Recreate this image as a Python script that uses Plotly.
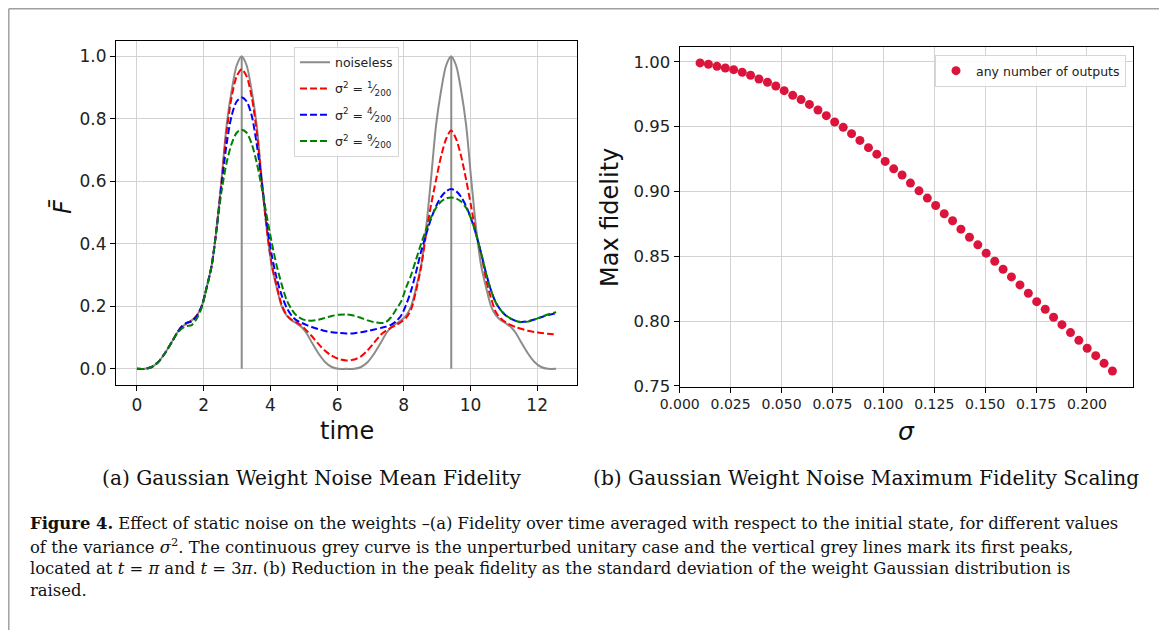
import plotly.graph_objects as go

OFFSET = 8  # the page body adds an 8px margin; positions below are page pixels
W, H = 1167 - OFFSET, 630 - OFFSET

# ---------------- data: panel (a) ----------------
time = [0.00, 0.24, 0.44, 0.64, 0.84, 1.04, 1.19, 1.34, 1.49, 1.64, 1.79, 1.94, 2.09, 2.24, 2.39, 2.54, 2.69, 2.84, 2.99, 3.14,
        3.29, 3.44, 3.59, 3.74, 3.89, 4.04, 4.19, 4.34, 4.49, 4.64, 4.79, 4.94, 5.09, 5.24, 5.44, 5.64, 5.84, 6.04, 6.28,
        6.52, 6.72, 6.92, 7.12, 7.32, 7.47, 7.62, 7.77, 7.92, 8.07, 8.22, 8.37, 8.52, 8.67, 8.82, 8.97, 9.12, 9.27, 9.42,
        9.57, 9.72, 9.87, 10.02, 10.17, 10.32, 10.47, 10.62, 10.77, 10.92, 11.07, 11.22, 11.37, 11.52, 11.72, 11.92, 12.12, 12.32, 12.57]

noiseless = [0.0, 0.0, 0.006, 0.022, 0.05, 0.085, 0.113, 0.133, 0.145, 0.155, 0.17, 0.20, 0.26, 0.33, 0.45, 0.61, 0.78, 0.89, 0.97, 1.0,
             0.97, 0.89, 0.78, 0.61, 0.45, 0.33, 0.26, 0.20, 0.17, 0.155, 0.145, 0.133, 0.113, 0.085, 0.05, 0.022, 0.006, 0.0, 0.0,
             0.0, 0.006, 0.022, 0.05, 0.085, 0.113, 0.133, 0.145, 0.155, 0.17, 0.20, 0.26, 0.33, 0.45, 0.61, 0.78, 0.89, 0.97, 1.0,
             0.97, 0.89, 0.78, 0.61, 0.45, 0.33, 0.26, 0.20, 0.17, 0.155, 0.145, 0.133, 0.113, 0.085, 0.05, 0.022, 0.006, 0.0, 0.0]

var_1 = [0.0, 0.0, 0.006, 0.022, 0.05, 0.085, 0.113, 0.135, 0.147, 0.153, 0.17, 0.20, 0.26, 0.33, 0.45, 0.60, 0.76, 0.87, 0.935, 0.958,
         0.935, 0.87, 0.76, 0.60, 0.45, 0.335, 0.265, 0.205, 0.172, 0.157, 0.148, 0.138, 0.122, 0.105, 0.08, 0.058, 0.042, 0.032, 0.027,
         0.03, 0.04, 0.06, 0.085, 0.11, 0.122, 0.132, 0.14, 0.15, 0.163, 0.19, 0.25, 0.325, 0.43, 0.525, 0.605, 0.68, 0.735, 0.762,
         0.735, 0.68, 0.605, 0.52, 0.43, 0.37, 0.285, 0.225, 0.18, 0.16, 0.148, 0.14, 0.133, 0.128, 0.122, 0.118, 0.115, 0.112, 0.11]

var_4 = [0.0, 0.0, 0.006, 0.022, 0.05, 0.085, 0.113, 0.135, 0.147, 0.152, 0.168, 0.20, 0.26, 0.33, 0.45, 0.59, 0.72, 0.81, 0.855, 0.868,
         0.855, 0.81, 0.72, 0.60, 0.47, 0.365, 0.29, 0.235, 0.195, 0.17, 0.155, 0.147, 0.14, 0.134, 0.127, 0.121, 0.117, 0.115, 0.113,
         0.114, 0.117, 0.121, 0.126, 0.131, 0.135, 0.141, 0.152, 0.17, 0.205, 0.25, 0.31, 0.375, 0.43, 0.48, 0.52, 0.55, 0.568, 0.575,
         0.568, 0.55, 0.52, 0.48, 0.43, 0.37, 0.305, 0.25, 0.21, 0.186, 0.17, 0.16, 0.153, 0.15, 0.152, 0.158, 0.165, 0.172, 0.178]

var_9 = [0.0, 0.0, 0.006, 0.022, 0.05, 0.085, 0.11, 0.128, 0.137, 0.14, 0.16, 0.195, 0.26, 0.33, 0.45, 0.57, 0.66, 0.72, 0.755, 0.765,
         0.755, 0.72, 0.66, 0.58, 0.49, 0.405, 0.33, 0.27, 0.22, 0.19, 0.17, 0.16, 0.155, 0.154, 0.157, 0.163, 0.169, 0.173, 0.174,
         0.17, 0.163, 0.155, 0.149, 0.147, 0.15, 0.165, 0.19, 0.215, 0.26, 0.30, 0.35, 0.40, 0.445, 0.485, 0.515, 0.535, 0.545, 0.548,
         0.545, 0.535, 0.515, 0.48, 0.43, 0.37, 0.305, 0.25, 0.21, 0.186, 0.17, 0.16, 0.153, 0.149, 0.151, 0.158, 0.166, 0.174, 0.181]

peak_times = [3.1416, 9.4248]          # t = pi and t = 3 pi
x_ticks_a = [0, 2, 4, 6, 8, 10, 12]
y_ticks_a = [0.0, 0.2, 0.4, 0.6, 0.8, 1.0]

# ---------------- data: panel (b) ----------------
sigma = [0.0100, 0.0141, 0.0183, 0.0224, 0.0265, 0.0307, 0.0348, 0.0389, 0.0431, 0.0472,
         0.0513, 0.0555, 0.0596, 0.0637, 0.0679, 0.0720, 0.0761, 0.0803, 0.0844, 0.0885,
         0.0927, 0.0968, 0.1009, 0.1051, 0.1092, 0.1133, 0.1175, 0.1216, 0.1257, 0.1299,
         0.1340, 0.1381, 0.1423, 0.1464, 0.1505, 0.1547, 0.1588, 0.1629, 0.1671, 0.1712,
         0.1753, 0.1795, 0.1836, 0.1877, 0.1919, 0.1960, 0.2001, 0.2043, 0.2084, 0.2125]
max_fidelity = [0.9992, 0.9982, 0.9966, 0.9953, 0.9940, 0.9920, 0.9897, 0.9868, 0.9843, 0.9814,
                0.9778, 0.9742, 0.9709, 0.9672, 0.9629, 0.9585, 0.9536, 0.9495, 0.9446, 0.9394,
                0.9338, 0.9288, 0.9232, 0.9175, 0.9127, 0.9065, 0.9005, 0.8949, 0.8892, 0.8828,
                0.8774, 0.8709, 0.8647, 0.8588, 0.8524, 0.8462, 0.8400, 0.8341, 0.8279, 0.8215,
                0.8150, 0.8091, 0.8029, 0.7972, 0.7911, 0.7851, 0.7790, 0.7733, 0.7674, 0.7615]
x_ticks_b = [0.0, 0.025, 0.05, 0.075, 0.1, 0.125, 0.15, 0.175, 0.2]
y_ticks_b = [0.75, 0.80, 0.85, 0.90, 0.95, 1.00]

# ---------------- figure ----------------
def px(x):
    return (x - OFFSET) / W

def py(y):
    return 1 - (y - OFFSET) / H

fig = go.Figure()

vx, vy = [], []
for p in peak_times:
    vx += [p, p, None]
    vy += [0, 1, None]
fig.add_trace(go.Scatter(x=vx, y=vy, mode="lines", line=dict(color="#8c8c8c", width=2),
                         showlegend=False, hoverinfo="skip", xaxis="x", yaxis="y"))

fig.add_trace(go.Scatter(x=time, y=noiseless, mode="lines", name="noiseless",
                         line=dict(color="#8c8c8c", width=2, shape="spline", smoothing=0.8),
                         xaxis="x", yaxis="y", legend="legend", legendgroup="a0"))
series = [
    (var_1, "red", "σ<sup>2</sup> = <sup>1</sup>⁄<sub>200</sub>"),
    (var_4, "blue", "σ<sup>2</sup> = <sup>4</sup>⁄<sub>200</sub>"),
    (var_9, "green", "σ<sup>2</sup> = <sup>9</sup>⁄<sub>200</sub>"),
]
for i, (vals, col, lab) in enumerate(series):
    fig.add_trace(go.Scatter(x=time, y=vals, mode="lines", name=lab,
                             line=dict(color=col, width=2, dash="7px,3px", shape="spline", smoothing=0.8),
                             xaxis="x", yaxis="y", legend="legend", legendgroup="a%d" % (i + 1)))

fig.add_trace(go.Scatter(x=sigma, y=max_fidelity, mode="markers", name="any number of outputs",
                         marker=dict(color="#dc143c", size=9),
                         xaxis="x2", yaxis="y2", legend="legend2"))

axis_common = dict(showline=True, mirror=True, linecolor="black", linewidth=1,
                   ticks="outside", ticklen=5, tickcolor="black", tickwidth=1,
                   showgrid=True, gridcolor="#d3d3d3", gridwidth=1, zeroline=False,
                   automargin=False,
                   tickfont=dict(family="DejaVu Sans", color="#222", size=17))

fig.update_layout(
    width=W, height=H,
    margin=dict(l=0, r=0, t=0, b=0, pad=0, autoexpand=False),
    paper_bgcolor="white", plot_bgcolor="white",
    xaxis=dict(domain=[px(116), px(577)], range=[-0.628, 13.195], tickvals=x_ticks_a,
               anchor="y", **axis_common),
    yaxis=dict(domain=[py(384.5), py(40.5)], range=[-0.05, 1.05], tickvals=y_ticks_a,
               tickformat=".1f", anchor="x", **axis_common),
    xaxis2=dict(domain=[px(679.5), px(1133)], range=[-0.0001, 0.2226], tickvals=x_ticks_b,
                tickformat=".3f", anchor="y2", **{**axis_common, "tickfont": dict(family="DejaVu Sans", color="#222", size=14)}),
    yaxis2=dict(domain=[py(386.5), py(47)], range=[0.7495, 1.0115], tickvals=y_ticks_b,
                tickformat=".2f", anchor="x2", **{**axis_common, "tickfont": dict(family="DejaVu Sans", color="#222", size=16.5)}),
    legend=dict(x=px(294), y=py(46.5), xanchor="left", yanchor="top",
                bgcolor="rgba(255,255,255,0.85)", bordercolor="#d6d6d6", borderwidth=1,
                font=dict(family="DejaVu Sans", size=12.5, color="#222"),
                traceorder="grouped", tracegroupgap=7, itemwidth=30),
    legend2=dict(x=px(935), y=py(55), xanchor="left", yanchor="top",
                 bgcolor="rgba(255,255,255,0.85)", bordercolor="#d6d6d6", borderwidth=1,
                 font=dict(family="DejaVu Sans", size=12.5, color="#222")),
)

ann = []
def add_text(x, y, text, size, family="DejaVu Sans", angle=0, xanchor="center", color="#111"):
    ann.append(dict(x=px(x), y=py(y), xref="paper", yref="paper", text=text, showarrow=False,
                    xanchor=xanchor, yanchor="middle", textangle=angle,
                    font=dict(family=family, size=size, color=color)))

add_text(346.5, 431, "time", 24)
add_text(906, 431, "<i>σ</i>", 25)
add_text(610, 218, "Max fidelity", 24, angle=-90)
add_text(62, 207, "<i>F\u0304</i>", 24, angle=-90)

add_text(311, 478, "(a) Gaussian Weight Noise Mean Fidelity", 20.2, family="DejaVu Serif")
add_text(866, 478, "(b) Gaussian Weight Noise Maximum Fidelity Scaling", 20.2, family="DejaVu Serif")

cap_lines = [
    "<b>Figure 4.</b> Effect of static noise on the weights –(a) Fidelity over time averaged with respect to the initial state, for different values",
    "of the variance <i>σ</i><sup>2</sup>. The continuous grey curve is the unperturbed unitary case and the vertical grey lines mark its first peaks,",
    "located at <i>t</i> = <i>π</i> and <i>t</i> = 3<i>π</i>. (b) Reduction in the peak fidelity as the standard deviation of the weight Gaussian distribution is",
    "raised.",
]
for i, line in enumerate(cap_lines):
    add_text(28, 523 + i * 22.5, line, 16.4, family="DejaVu Serif", xanchor="left")

fig.update_layout(annotations=ann)

# figure frame (left, top, right edges)
frame = dict(color="#a0a0a0", width=1.5)
fig.add_shape(type="line", xref="paper", yref="paper", x0=px(8.8), x1=px(8.8), y0=0, y1=py(8.8), line=frame)
fig.add_shape(type="line", xref="paper", yref="paper", x0=px(8.8), x1=px(1162), y0=py(8.8), y1=py(8.8), line=frame)
fig.add_shape(type="line", xref="paper", yref="paper", x0=px(1162), x1=px(1162), y0=0, y1=py(8.8), line=frame)

fig.write_html("out.html")
